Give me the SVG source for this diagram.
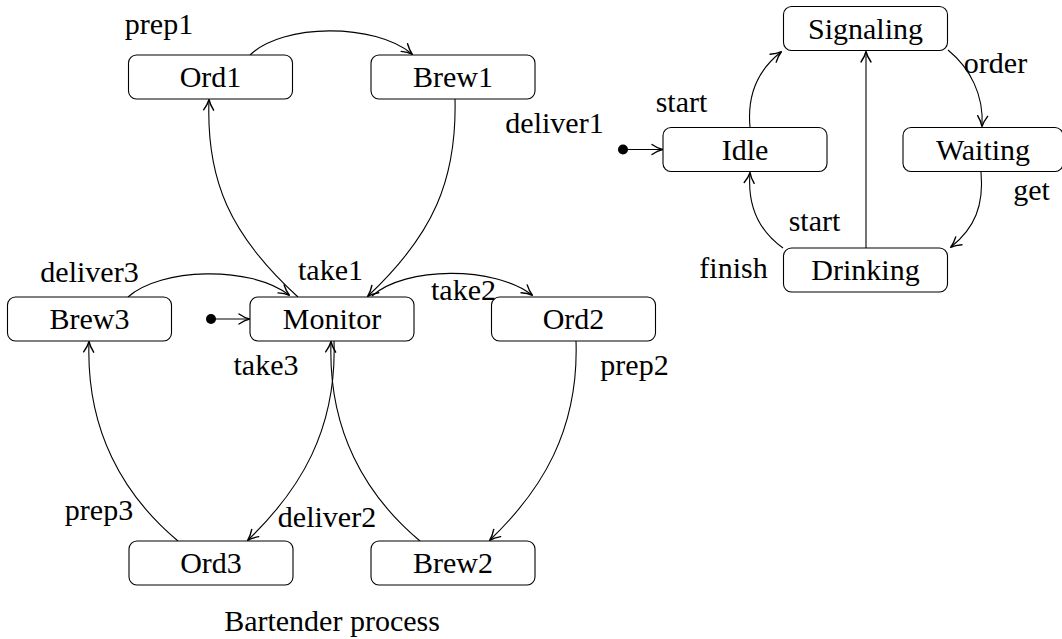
<svg xmlns="http://www.w3.org/2000/svg" width="1062" height="639" viewBox="0 0 1062 639">
<defs>
<style>
.box{fill:#fff;stroke:#000;stroke-width:1.1}
.t{font-family:'Liberation Serif','DejaVu Serif',serif;font-size:30px;fill:#000;text-anchor:middle}
.e{fill:none;stroke:#000;stroke-width:1.1;marker-end:url(#arr)}
</style>
<marker id="arr" markerWidth="16" markerHeight="16" refX="12.5" refY="8" orient="auto" markerUnits="userSpaceOnUse" viewBox="0 0 16 16">
<path d="M2.5,3 Q8,6.8 13,8 Q8,9.2 2.5,13" fill="none" stroke="#000" stroke-width="1.4" stroke-linecap="round" stroke-linejoin="round"/>
</marker>
</defs>
<rect width="1062" height="639" fill="#fff"/>
<g id="connectors">
<path class="e" d="M250,55 C283,23 375,23 412,54"/>
<path class="e" d="M455,99 C457,180 433,235 368,296"/>
<path class="e" d="M298,297 C230,235 206,180 209,100"/>
<path class="e" d="M128,297 C160,268 250,265 289,295"/>
<path class="e" d="M372,296 C405,266 495,266 532,295"/>
<path class="e" d="M334,341 C337,430 300,490 248,540"/>
<path class="e" d="M420,541 C365,495 328,430 331,342"/>
<path class="e" d="M178,541 C123,495 86,430 89,342"/>
<path class="e" d="M576,341 C579,430 542,490 490,540"/>
<circle cx="211" cy="319" r="5" fill="#000"/>
<path class="e" d="M211,319 L249,319"/>
<circle cx="623" cy="149.5" r="5" fill="#000"/>
<path class="e" d="M623,149.5 L662,149.5"/>
<path class="e" d="M750,127 C747,95 758,70 781,52"/>
<path class="e" d="M948,50 C970,68 984,95 982,126"/>
<path class="e" d="M981,172 C984,205 975,228 951,247"/>
<path class="e" d="M783,248 C762,233 747,210 750,173"/>
<path class="e" d="M866,248 L866,52"/>
</g>
<g font-family="Liberation Serif, DejaVu Serif, serif" font-size="30" text-anchor="middle">
<g id="Ord1"><rect class="box" x="128.5" y="55" width="164" height="44" rx="8"/><text class="t" x="210.5" y="87">Ord1</text></g>
<g id="Brew1"><rect class="box" x="371" y="55" width="164" height="44" rx="8"/><text class="t" x="453" y="87">Brew1</text></g>
<g id="Brew3"><rect class="box" x="7.5" y="297" width="164" height="44" rx="8"/><text class="t" x="89.5" y="329">Brew3</text></g>
<g id="Monitor"><rect class="box" x="250" y="297" width="164" height="44" rx="8"/><text class="t" x="332" y="329">Monitor</text></g>
<g id="Ord2"><rect class="box" x="491.5" y="297" width="164" height="44" rx="8"/><text class="t" x="573.5" y="329">Ord2</text></g>
<g id="Ord3"><rect class="box" x="129" y="541" width="164" height="44" rx="8"/><text class="t" x="211" y="573">Ord3</text></g>
<g id="Brew2"><rect class="box" x="371" y="541" width="164" height="44" rx="8"/><text class="t" x="453" y="573">Brew2</text></g>
<g id="Signaling"><rect class="box" x="783.5" y="6.5" width="164" height="44" rx="8"/><text class="t" x="865.5" y="38.5">Signaling</text></g>
<g id="Idle"><rect class="box" x="663" y="127.5" width="164" height="44" rx="8"/><text class="t" x="745" y="159.5">Idle</text></g>
<g id="Waiting"><rect class="box" x="903" y="127.5" width="160" height="44" rx="8"/><text class="t" x="983" y="159.5">Waiting</text></g>
<g id="Drinking"><rect class="box" x="783.5" y="248" width="164" height="44" rx="8"/><text class="t" x="865.5" y="280">Drinking</text></g>
<g id="labels">
<text class="t" x="159" y="34">prep1</text>
<text class="t" x="554.5" y="133">deliver1</text>
<text class="t" x="330.5" y="280">take1</text>
<text class="t" x="89.5" y="282">deliver3</text>
<text class="t" x="463.5" y="300">take2</text>
<text class="t" x="266" y="375">take3</text>
<text class="t" x="634.5" y="375">prep2</text>
<text class="t" x="99" y="520">prep3</text>
<text class="t" x="327" y="527">deliver2</text>
<text class="t" x="332" y="631">Bartender process</text>
<text class="t" x="681.5" y="112">start</text>
<text class="t" x="995.5" y="73">order</text>
<text class="t" x="1031.5" y="200">get</text>
<text class="t" x="814.5" y="231">start</text>
<text class="t" x="733.5" y="278">finish</text>
</g>
</g>
</svg>
